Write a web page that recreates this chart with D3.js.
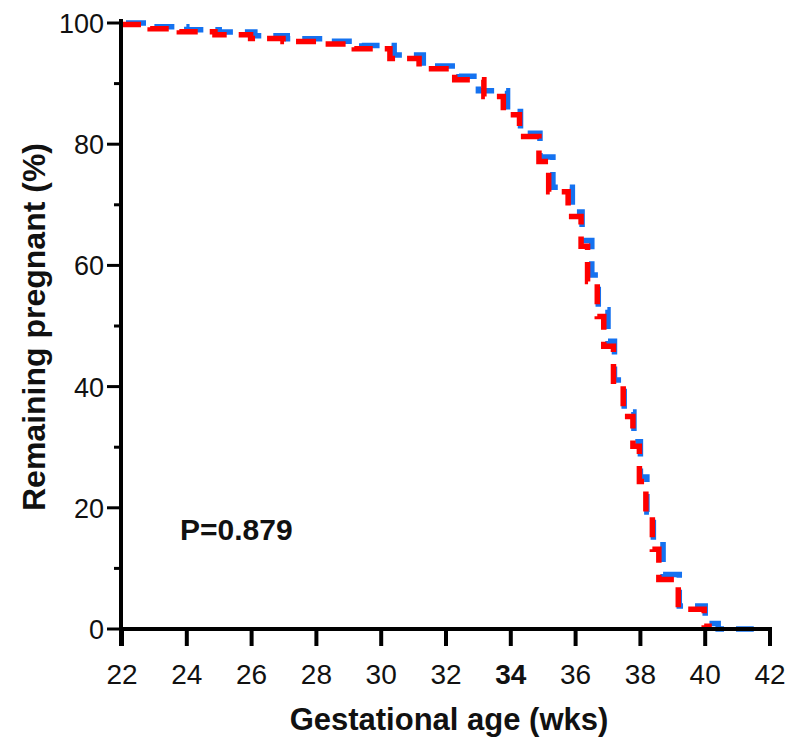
<!DOCTYPE html>
<html>
<head>
  <meta charset="UTF-8">
  <title>Remaining pregnant</title>
  <style>
    body { margin: 0; background: #fff; }
    text { font-family: "Liberation Sans", Arial, sans-serif; fill: #111; }
  </style>
</head>
<body>
<svg id="chart"></svg>
<script src="https://d3js.org/d3.v7.min.js"></script>
<script>

let width = 811, height = 738;

// survival curves (week, % remaining pregnant)
var redWeeks = [22, 22.9, 23.8, 24.9, 26.0, 27.0, 28.1, 29.2, 30.3, 31.2, 32.3, 33.2, 33.8, 34.3, 34.9, 35.2, 35.8, 36.2, 36.4, 36.7, 36.9, 37.2, 37.5, 37.8, 38.0, 38.2, 38.4, 38.6, 39.2, 40.0, 40.15]
var redPct   = [100, 99.3, 98.8, 98.3, 97.7, 97.2, 96.8, 96.0, 94.4, 92.7, 90.9, 88.1, 85.1, 81.5, 77.4, 72.4, 68.3, 63.4, 57.6, 51.8, 46.9, 40.6, 35.3, 30.4, 24.6, 18.8, 13.4, 8.4, 3.5, 0.7, 0]
var blueWeeks = [22, 23.0, 24.0, 25.0, 26.1, 27.1, 28.2, 29.4, 30.4, 31.3, 32.4, 33.0, 33.9, 34.3, 34.9, 35.3, 35.9, 36.2, 36.5, 36.7, 37.0, 37.2, 37.5, 37.8, 38.0, 38.2, 38.4, 38.7, 39.2, 40.0, 40.4, 41.5]
var bluePct   = [100, 99.4, 98.9, 98.5, 97.9, 97.4, 97.0, 96.3, 94.7, 92.9, 91.2, 88.8, 85.4, 81.8, 77.9, 72.9, 68.8, 64.1, 58.4, 52.7, 47.5, 41.1, 35.8, 30.9, 25.1, 19.3, 13.9, 9.0, 3.8, 0.9, 0.0, 0.0]

var xTicks = [22, 24, 26, 28, 30, 32, 34, 36, 38, 40, 42]
var yTicks = [0, 20, 40, 60, 80, 100]
var yMinor = [10, 30, 50, 70, 90]

let svg = d3.select("#chart")
    .attr("width", width)
    .attr("height", height)

var x = d3.scaleLinear().domain([22, 42]).range([122, 770])
var y = d3.scaleLinear().domain([0, 100]).range([629, 23])

// curves
var line = d3.line()
    .x(function(d){ return x(d[0]) })
    .y(function(d){ return y(d[1]) })
    .curve(d3.curveStepAfter)

svg.append("path")
    .datum(d3.zip(blueWeeks, bluePct))
    .attr("d", line)
    .attr("fill", "none")
    .attr("stroke", "#1572f0")
    .attr("stroke-width", 5.5)
    .attr("stroke-dasharray", "20,12")
    .attr("stroke-dashoffset", -4)

svg.append("path")
    .datum(d3.zip(redWeeks, redPct))
    .attr("d", line)
    .attr("fill", "none")
    .attr("stroke", "#ff0000")
    .attr("stroke-width", 5.5)
    .attr("stroke-dasharray", "20,12")
    .attr("transform", "translate(-1,1.5)")

// x axis
var gx = svg.append("g")
gx.append("line")
    .attr("x1", 120).attr("x2", 772)
    .attr("y1", 629).attr("y2", 629)
    .attr("stroke", "black").attr("stroke-width", 4)
gx.selectAll("line.tick")
    .data(xTicks)
    .enter()
    .append("line")
    .attr("class", "tick")
    .attr("x1", function(d){ return x(d) })
    .attr("x2", function(d){ return x(d) })
    .attr("y1", 629).attr("y2", 646)
    .attr("stroke", "black").attr("stroke-width", 4)
gx.selectAll("text")
    .data(xTicks)
    .enter()
    .append("text")
    .attr("x", function(d){ return x(d) })
    .attr("y", 684)
    .attr("text-anchor", "middle")
    .style("font-size", "28px")
    .style("font-weight", function(d){ return d == 34 ? "bold" : "normal" })
    .text(function(d){ return d })

// y axis
var gy = svg.append("g")
gy.append("line")
    .attr("x1", 121).attr("x2", 121)
    .attr("y1", 19).attr("y2", 646)
    .attr("stroke", "black").attr("stroke-width", 4)
gy.selectAll("line.major")
    .data(yTicks)
    .enter()
    .append("line")
    .attr("class", "major")
    .attr("x1", 107).attr("x2", 121)
    .attr("y1", function(d){ return y(d) })
    .attr("y2", function(d){ return y(d) })
    .attr("stroke", "black").attr("stroke-width", 3)
gy.selectAll("line.minor")
    .data(yMinor)
    .enter()
    .append("line")
    .attr("class", "minor")
    .attr("x1", 114).attr("x2", 121)
    .attr("y1", function(d){ return y(d) })
    .attr("y2", function(d){ return y(d) })
    .attr("stroke", "black").attr("stroke-width", 3)
gy.selectAll("text")
    .data(yTicks)
    .enter()
    .append("text")
    .attr("x", 104)
    .attr("y", function(d){ return y(d) + 10 })
    .attr("text-anchor", "end")
    .style("font-size", "27px")
    .text(function(d){ return d })

// axis titles
svg.append("text")
    .attr("x", 449).attr("y", 730)
    .attr("text-anchor", "middle")
    .style("font-size", "31px").style("font-weight", "bold")
    .text("Gestational age (wks)")

svg.append("text")
    .attr("transform", "translate(45,327) rotate(-90)")
    .attr("text-anchor", "middle")
    .style("font-size", "32px").style("font-weight", "bold")
    .text("Remaining pregnant (%)")

svg.append("text")
    .attr("x", 180).attr("y", 540)
    .style("font-size", "30px").style("font-weight", "bold")
    .text("P=0.879")

</script>
</body>
</html>
